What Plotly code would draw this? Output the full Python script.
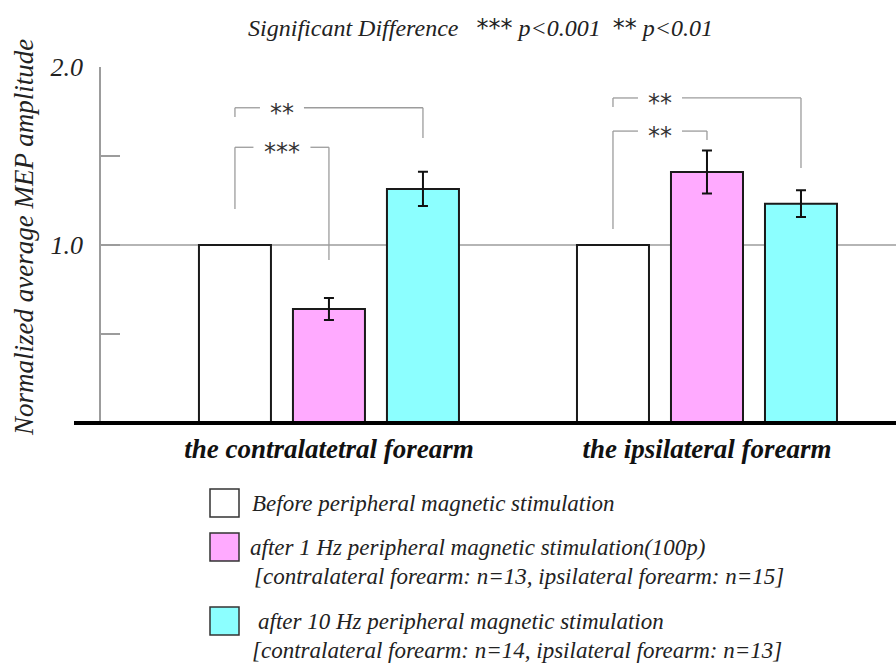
import plotly.graph_objects as go

# ---- data -------------------------------------------------------------
groups = ["the contralatetral forearm", "the ipsilateral forearm"]

before_mean = [1.0, 1.0]
hz1_mean = [0.64, 1.41]
hz1_err = [0.062, 0.121]
hz10_mean = [1.315, 1.232]
hz10_err = [0.096, 0.075]

n_1hz = [13, 15]
n_10hz = [14, 13]

y_tickvals = [0.5, 1.0, 1.5, 2.0]
y_ticktext = ["", "1.0", "", "2.0"]

series_labels = [
    "Before peripheral magnetic stimulation",
    "after 1 Hz peripheral magnetic stimulation(100p)",
    "after 10 Hz peripheral magnetic stimulation",
]

# significance brackets: (group, bar a, bar b, label, top, leg a bottom, leg b bottom)
comparisons = [
    (0, 0, 2, "**", 1.771, 1.719, 1.601),
    (0, 0, 1, "***", 1.549, 1.202, 0.916),
    (1, 0, 2, "**", 1.826, 1.775, 1.433),
    (1, 0, 1, "**", 1.640, 1.090, 1.590),
]

# ---- styling ----------------------------------------------------------
SERIF = "Liberation Serif"
STAR_FONT = "DejaVu Sans"
WHITE, PINK, CYAN = "#ffffff", "#ffaaff", "#8cffff"
EDGE = "#1a1a1a"
GREY = "#9c9c9c"

W, H = 896, 664
M_L, M_R, M_T, M_B = 101, 0, 67, 241
PLOT_W = W - M_L - M_R
PLOT_H = H - M_T - M_B
X_RANGE = [-0.603, 1.5]
BARGAP, BARGROUPGAP = 0.254, 0.234
SLOT = (1 - BARGAP) / 3
PX_PER_X = PLOT_W / (X_RANGE[1] - X_RANGE[0])


def px_x(px):
    return (px - M_L) / PLOT_W


def px_y(py):
    return (H - M_B - py) / PLOT_H


def stars(s):
    return f"<span style=\"font-family:'{STAR_FONT}'\">{s}</span>"


fig = go.Figure()

bar_style = dict(marker_line_color=EDGE, marker_line_width=2, showlegend=False)
err_style = dict(type="data", color="#111111", thickness=2, width=5)

fig.add_trace(go.Bar(x=groups, y=before_mean, name=series_labels[0],
                     marker_color=WHITE, **bar_style))
fig.add_trace(go.Bar(x=groups, y=hz1_mean, name=series_labels[1],
                     marker_color=PINK, error_y=dict(array=hz1_err, **err_style),
                     **bar_style))
fig.add_trace(go.Bar(x=groups, y=hz10_mean, name=series_labels[2],
                     marker_color=CYAN, error_y=dict(array=hz10_err, **err_style),
                     **bar_style))

shapes = []
annotations = []

# reference line at 1.0, behind the bars
shapes.append(dict(type="line", xref="paper", yref="y", x0=0, x1=1, y0=1, y1=1,
                   line=dict(color=GREY, width=1.3), layer="below"))
# heavy baseline
shapes.append(dict(type="line", xref="paper", yref="paper", x0=px_x(74), x1=1,
                   y0=0, y1=0, line=dict(color="#000000", width=4), layer="above"))

# significance brackets
for g, a, b, label, top, bot_a, bot_b in comparisons:
    xa = g + (a - 1) * SLOT
    xb = g + (b - 1) * SLOT
    xt = xa + 47 / PX_PER_X
    half_gap = (22 if len(label) == 2 else 28.5) / PX_PER_X
    line = dict(color=GREY, width=1.3)
    shapes += [
        dict(type="line", x0=xa, x1=xa, y0=bot_a, y1=top, line=line),
        dict(type="line", x0=xa, x1=xt - half_gap, y0=top, y1=top, line=line),
        dict(type="line", x0=xt + half_gap, x1=xb, y0=top, y1=top, line=line),
        dict(type="line", x0=xb, x1=xb, y0=top, y1=bot_b, line=line),
    ]
    annotations.append(dict(x=xt, y=top, xref="x", yref="y", text=label,
                            showarrow=False, xanchor="center", yanchor="middle",
                            yshift=-5,
                            font=dict(family=STAR_FONT, size=24, color="#333333")))

# legend drawn beneath the chart
legend_rows = [
    (WHITE, 489, [(250, 503, series_labels[0])]),
    (PINK, 533, [(248, 547, series_labels[1]),
                 (252, 576, f"[contralateral forearm: n={n_1hz[0]}, "
                            f"ipsilateral forearm: n={n_1hz[1]}]")]),
    (CYAN, 607, [(256, 621, series_labels[2]),
                 (250, 650, f"[contralateral forearm: n={n_10hz[0]}, "
                            f"ipsilateral forearm: n={n_10hz[1]}]")]),
]
for color, top_px, lines in legend_rows:
    shapes.append(dict(type="rect", xref="paper", yref="paper",
                       x0=px_x(210), x1=px_x(239), y0=px_y(top_px + 28), y1=px_y(top_px),
                       fillcolor=color, line=dict(color="#333333", width=1.5)))
    for lx, ly, txt in lines:
        annotations.append(dict(x=px_x(lx), y=px_y(ly), xref="paper", yref="paper",
                                text=txt, showarrow=False, xanchor="left",
                                yanchor="middle",
                                font=dict(family=SERIF, size=23, color="#222222",
                                          style="italic")))

# vertical axis title
annotations.append(dict(x=px_x(24), y=px_y(238), xref="paper", yref="paper",
                        text="Normalized average MEP amplitude", textangle=-90,
                        showarrow=False, xanchor="center", yanchor="middle",
                        font=dict(family=SERIF, size=27, color="#222222",
                                  style="italic")))

fig.update_layout(
    width=W, height=H,
    margin=dict(l=M_L, r=M_R, t=M_T, b=M_B, autoexpand=False),
    paper_bgcolor="white", plot_bgcolor="white",
    barmode="group", bargap=BARGAP, bargroupgap=BARGROUPGAP,
    title=dict(text="Significant Difference\u00a0\u00a0\u00a0" + stars("***")
                    + " p<0.001\u00a0\u00a0" + stars("**") + " p<0.01",
               x=480.5 / W, y=1 - 28 / H, xref="container", yref="container",
               xanchor="center", yanchor="middle",
               font=dict(family=SERIF, size=24, color="#222222", style="italic")),
    shapes=shapes,
    annotations=annotations,
)

fig.update_xaxes(
    type="category", range=X_RANGE, showline=False, showgrid=False, zeroline=False,
    ticks="", ticklabelstandoff=7,
    tickfont=dict(family=SERIF, size=27, color="#111111", style="italic", weight="bold"),
)
fig.update_yaxes(
    range=[0, 2], showline=True, linecolor=GREY, linewidth=1.5,
    ticks="inside", ticklen=19, tickwidth=1.5, tickcolor=GREY,
    tickvals=y_tickvals, ticktext=y_ticktext, ticklabelstandoff=11,
    tickfont=dict(family=SERIF, size=26, color="#222222", style="italic"),
    showgrid=False, zeroline=False,
)

fig.write_html("out.html")
